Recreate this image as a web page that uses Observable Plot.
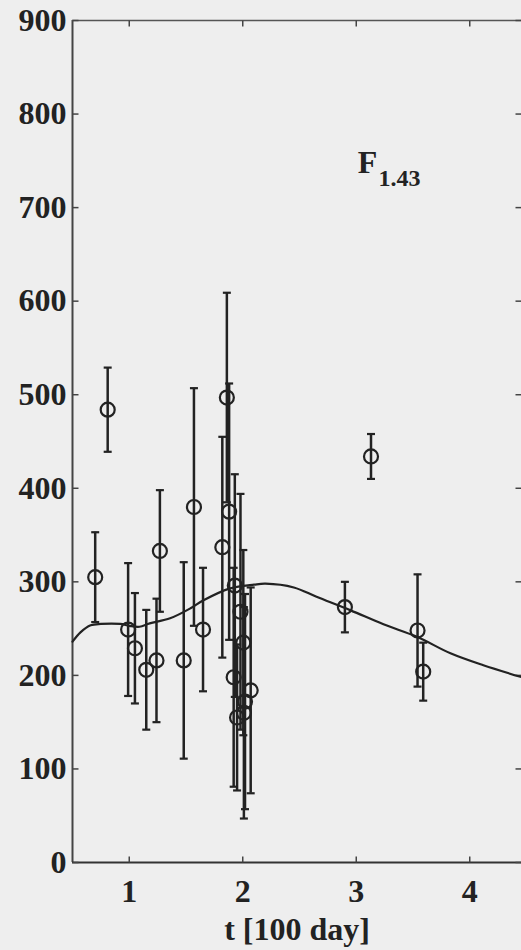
<!DOCTYPE html>
<html>
<head>
<meta charset="utf-8">
<script src="https://cdn.jsdelivr.net/npm/d3@7"></script>
<script src="https://cdn.jsdelivr.net/npm/@observablehq/plot@0.6"></script>
<style>
  html, body { margin: 0; padding: 0; background: #eeeeee; }
  #chart svg { display: block; background: #eeeeee; }
</style>
</head>
<body>
<div id="chart"></div>
<script>
// Observations: time [100 day], flux value, symmetric error
const obsT   = [0.70, 0.81, 0.99, 1.05, 1.15, 1.24, 1.27, 1.48, 1.57, 1.65, 1.82, 1.86, 1.88, 1.93, 1.98, 2.005, 1.92, 1.95, 2.07, 2.02, 2.01, 2.90, 3.13, 3.54, 3.59];
const obsVal = [305, 484, 249, 229, 206, 216, 333, 216, 380, 249, 337, 497, 375, 296, 268, 235, 198, 155, 184, 172, 160, 273, 434, 248, 204];
const obsErr = [48, 45, 71, 59, 64, 66, 65, 105, 127, 66, 118, 112, 137, 119, 126, 99, 117, 78, 110, 115, 113, 27, 24, 60, 31];

// Model curve
const curveT   = [0.50, 0.57, 0.66, 0.75, 0.92, 1.00, 1.09, 1.18, 1.36, 1.54, 1.65, 1.89, 2.10, 2.20, 2.45, 2.65, 2.95, 3.24, 3.54, 3.83, 4.12, 4.46];
const curveVal = [236, 246, 253.5, 255, 255, 253, 252, 255.6, 261, 271.7, 280, 293, 297, 298, 294, 284, 269.5, 254.6, 241, 223.6, 210.8, 198];

// Axis ticks
const xTicks = [1, 2, 3, 4];
const yTicks = [0, 100, 200, 300, 400, 500, 600, 700, 800, 900];
const xLabel = "t [100 day]";
const panelName = "F";
const panelSub = "1.43";
const panelPos = {t: 3.10, v: 737, subT: 3.195, subV: 723};

const obs = obsT.map((t, i) => ({t, v: obsVal[i], lo: obsVal[i] - obsErr[i], hi: obsVal[i] + obsErr[i]}));
const model = curveT.map((t, i) => ({t, v: curveVal[i]}));

const ink = "#222";
const tickLen = 6;
const capHalf = 4;
const sym = (f) => ({draw(ctx) { f(ctx); }});
const tickRight = sym(c => { c.moveTo(0, 0); c.lineTo(tickLen, 0); });
const tickLeft  = sym(c => { c.moveTo(0, 0); c.lineTo(-tickLen, 0); });
const tickUp    = sym(c => { c.moveTo(0, 0); c.lineTo(0, -tickLen); });
const tickDown  = sym(c => { c.moveTo(0, 0); c.lineTo(0, tickLen); });
const cap       = sym(c => { c.moveTo(-capHalf, 0); c.lineTo(capHalf, 0); });

const chart = Plot.plot({
  width: 521,
  height: 950,
  marginLeft: 72,
  marginRight: 0,
  marginTop: 20,
  marginBottom: 88,
  style: {fontFamily: "'Liberation Serif', serif", fontWeight: "bold", fontSize: "32px", color: ink, background: "#eeeeee"},
  x: {domain: [0.5, 4.456]},
  y: {domain: [0, 900]},
  marks: [
    // frame lines
    Plot.ruleX([0.5], {stroke: "#444", strokeWidth: 2}),
    Plot.ruleY([0], {stroke: "#333", strokeWidth: 2}),
    Plot.ruleY([900], {stroke: "#555", strokeWidth: 1.5}),
    // inward ticks
    Plot.dot(yTicks, {y: d => d, frameAnchor: "left", symbol: tickRight, stroke: "#444", strokeWidth: 1.5, fill: "none"}),
    Plot.dot(yTicks, {y: d => d, frameAnchor: "right", symbol: tickLeft, stroke: "#444", strokeWidth: 1.5, fill: "none"}),
    Plot.dot(xTicks, {x: d => d, frameAnchor: "bottom", symbol: tickUp, stroke: "#444", strokeWidth: 1.5, fill: "none"}),
    Plot.dot(xTicks, {x: d => d, frameAnchor: "top", symbol: tickDown, stroke: "#444", strokeWidth: 1.5, fill: "none"}),
    // tick labels
    Plot.axisY(yTicks, {anchor: "left", tickSize: 0, tickPadding: 6, label: null, tickFormat: d3.format("d"), fontSize: 32, fontWeight: "bold", fill: ink}),
    Plot.axisX(xTicks, {anchor: "bottom", tickSize: 0, tickPadding: 17, label: null, tickFormat: d3.format("d"), fontSize: 32, fontWeight: "bold", fill: ink}),
    Plot.text([xLabel], {frameAnchor: "bottom", dy: 77, fontSize: 32, fontWeight: "bold", fill: ink}),
    // model curve
    Plot.line(model, {x: "t", y: "v", curve: "catmull-rom", stroke: ink, strokeWidth: 2.2}),
    // error bars
    Plot.ruleX(obs, {x: "t", y1: "lo", y2: "hi", stroke: ink, strokeWidth: 2.5}),
    Plot.dot(obs, {x: "t", y: "lo", symbol: cap, stroke: ink, strokeWidth: 2.2, fill: "none"}),
    Plot.dot(obs, {x: "t", y: "hi", symbol: cap, stroke: ink, strokeWidth: 2.2, fill: "none"}),
    Plot.dot(obs, {x: "t", y: "v", r: 7, stroke: ink, strokeWidth: 2.2, fill: "none"}),
    // panel label
    Plot.text([panelName], {x: () => panelPos.t, y: () => panelPos.v, fontSize: 32, fontWeight: "bold", fill: ink, lineAnchor: "bottom"}),
    Plot.text([panelSub], {x: () => panelPos.subT, y: () => panelPos.subV, fontSize: 24, fontWeight: "bold", fill: ink, textAnchor: "start", lineAnchor: "bottom"})
  ]
});
document.getElementById("chart").append(chart);
</script>
</body>
</html>
